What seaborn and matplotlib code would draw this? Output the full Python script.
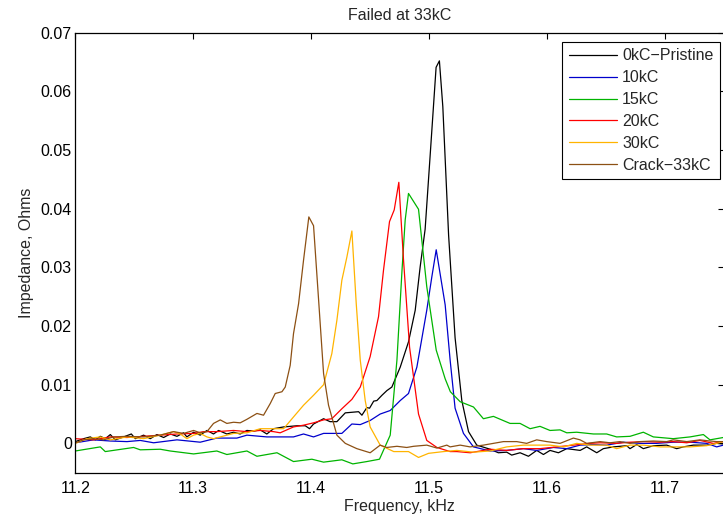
import numpy as np
import pandas as pd
import seaborn as sns
import matplotlib
matplotlib.use("Agg")
import matplotlib.pyplot as plt

# ---------------- data ----------------
x_0kC = [11.2000, 11.2071, 11.2127, 11.2170, 11.2212, 11.2254, 11.2297, 11.2339, 11.2410, 11.2475,
         11.2509, 11.2579, 11.2636, 11.2692, 11.2749, 11.2805, 11.2862, 11.2918, 11.2946, 11.3003,
         11.3059, 11.3116, 11.3172, 11.3215, 11.3285, 11.3342, 11.3398, 11.3455, 11.3511, 11.3568,
         11.3624, 11.3681, 11.3766, 11.3880, 11.3950, 11.3986, 11.4020, 11.4105, 11.4160, 11.4218,
         11.4289, 11.4402, 11.4430, 11.4472, 11.4495, 11.4530, 11.4557, 11.4600, 11.4642, 11.4684,
         11.4755, 11.4825, 11.4882, 11.4924, 11.4966, 11.5008, 11.5059, 11.5087, 11.5116, 11.5165,
         11.5220, 11.5277, 11.5334, 11.5404, 11.5517, 11.5587, 11.5658, 11.5700, 11.5771, 11.5842,
         11.5912, 11.5969, 11.6025, 11.6096, 11.6167, 11.6280, 11.6336, 11.6421, 11.6477, 11.6562,
         11.6675, 11.6703, 11.6760, 11.6816, 11.6901, 11.7014, 11.7099, 11.7155, 11.7240, 11.7353,
         11.7438, 11.7494]
y_0kC = [0.0003, 0.0008, 0.0011, 0.0006, 0.0012, 0.0008, 0.0015, 0.0006, 0.0011, 0.0016,
         0.0008, 0.0014, 0.0008, 0.0015, 0.0010, 0.0016, 0.0012, 0.0018, 0.0011, 0.0019,
         0.0014, 0.0022, 0.0016, 0.0022, 0.0016, 0.0019, 0.0016, 0.0022, 0.0021, 0.0023,
         0.0016, 0.0025, 0.0028, 0.0030, 0.0030, 0.0025, 0.0033, 0.0042, 0.0037, 0.0037,
         0.0052, 0.0054, 0.0048, 0.0061, 0.0060, 0.0072, 0.0073, 0.0082, 0.0090, 0.0096,
         0.0130, 0.0173, 0.0227, 0.0301, 0.0365, 0.0489, 0.0641, 0.0652, 0.0574, 0.0355,
         0.0180, 0.0073, 0.0020, -0.0003, -0.0010, -0.0016, -0.0015, -0.0020, -0.0016, -0.0022,
         -0.0012, -0.0019, -0.0012, -0.0016, -0.0009, -0.0012, -0.0006, -0.0016, -0.0009, -0.0006,
         -0.0004, -0.0009, -0.0002, -0.0009, -0.0004, -0.0003, -0.0009, -0.0006, -0.0003, -0.0003,
         0.0000, -0.0001]

x_10kC = [11.2000, 11.2155, 11.2297, 11.2438, 11.2551, 11.2664, 11.2862, 11.3059, 11.3200, 11.3370,
          11.3455, 11.3624, 11.3850, 11.3935, 11.4020, 11.4105, 11.4260, 11.4345, 11.4416, 11.4500,
          11.4585, 11.4670, 11.4755, 11.4825, 11.4896, 11.4980, 11.5023, 11.5060, 11.5136, 11.5178,
          11.5220, 11.5291, 11.5376, 11.5517, 11.5658, 11.5799, 11.5912, 11.6054, 11.6167, 11.6280,
          11.6393, 11.6505, 11.6647, 11.6788, 11.6929, 11.7070, 11.7212, 11.7353, 11.7438, 11.7494]
y_10kC = [0.0001, 0.0006, 0.0004, 0.0003, 0.0005, 0.0001, 0.0006, 0.0002, 0.0009, 0.0009,
          0.0014, 0.0011, 0.0011, 0.0016, 0.0011, 0.0017, 0.0017, 0.0033, 0.0032, 0.0039,
          0.0050, 0.0056, 0.0073, 0.0085, 0.0130, 0.0227, 0.0284, 0.0330, 0.0236, 0.0142,
          0.0060, 0.0017, -0.0006, -0.0013, -0.0012, -0.0009, -0.0012, -0.0007, -0.0009, -0.0003,
          -0.0002, -0.0003, 0.0002, 0.0000, 0.0000, 0.0002, 0.0002, 0.0000, -0.0006, -0.0003]

x_15kC = [11.2000, 11.2212, 11.2254, 11.2494, 11.2551, 11.2720, 11.2805, 11.3003, 11.3200, 11.3285,
          11.3455, 11.3540, 11.3710, 11.3850, 11.4006, 11.4105, 11.4260, 11.4353, 11.4472, 11.4579,
          11.4670, 11.4727, 11.4770, 11.4797, 11.4825, 11.4910, 11.4980, 11.5060, 11.5136, 11.5180,
          11.5263, 11.5376, 11.5460, 11.5545, 11.5686, 11.5771, 11.5856, 11.5940, 11.6025, 11.6110,
          11.6167, 11.6251, 11.6393, 11.6505, 11.6590, 11.6703, 11.6816, 11.6901, 11.7070, 11.7212,
          11.7325, 11.7381, 11.7494]
y_15kC = [-0.0013, -0.0006, -0.0014, -0.0007, -0.0011, -0.0010, -0.0013, -0.0018, -0.0013, -0.0019,
          -0.0013, -0.0022, -0.0016, -0.0031, -0.0027, -0.0032, -0.0028, -0.0035, -0.0031, -0.0027,
          0.0014, 0.0142, 0.0295, 0.0381, 0.0426, 0.0399, 0.0267, 0.0159, 0.0110, 0.0088,
          0.0071, 0.0062, 0.0042, 0.0046, 0.0034, 0.0034, 0.0025, 0.0029, 0.0022, 0.0023,
          0.0018, 0.0019, 0.0016, 0.0016, 0.0011, 0.0012, 0.0019, 0.0011, 0.0008, 0.0011,
          0.0015, 0.0006, 0.0010]

x_20kC = [11.2000, 11.2155, 11.2297, 11.2438, 11.2579, 11.2720, 11.2862, 11.3003, 11.3088, 11.3200,
          11.3342, 11.3455, 11.3568, 11.3681, 11.3737, 11.3850, 11.3935, 11.4020, 11.4105, 11.4175,
          11.4260, 11.4345, 11.4416, 11.4500, 11.4571, 11.4613, 11.4664, 11.4704, 11.4743, 11.4783,
          11.4834, 11.4910, 11.4980, 11.5066, 11.5178, 11.5235, 11.5348, 11.5517, 11.5658, 11.5799,
          11.5940, 11.6082, 11.6223, 11.6364, 11.6449, 11.6590, 11.6703, 11.6816, 11.6958, 11.7070,
          11.7184, 11.7296, 11.7410, 11.7494]
y_20kC = [0.0008, 0.0006, 0.0011, 0.0010, 0.0012, 0.0014, 0.0016, 0.0017, 0.0020, 0.0020,
          0.0022, 0.0020, 0.0022, 0.0020, 0.0018, 0.0028, 0.0031, 0.0035, 0.0040, 0.0042,
          0.0059, 0.0075, 0.0096, 0.0148, 0.0216, 0.0295, 0.0378, 0.0398, 0.0445, 0.0312,
          0.0164, 0.0050, 0.0005, -0.0007, -0.0014, -0.0014, -0.0016, -0.0010, -0.0012, -0.0009,
          -0.0009, -0.0006, -0.0003, 0.0000, 0.0001, 0.0000, 0.0002, 0.0003, 0.0002, 0.0003,
          0.0001, 0.0005, 0.0000, 0.0003]

x_30kC = [11.2000, 11.2099, 11.2212, 11.2297, 11.2438, 11.2579, 11.2720, 11.2833, 11.2890, 11.2946,
          11.3003, 11.3059, 11.3116, 11.3172, 11.3229, 11.3342, 11.3455, 11.3568, 11.3681, 11.3766,
          11.3850, 11.3935, 11.4020, 11.4105, 11.4175, 11.4218, 11.4260, 11.4303, 11.4345, 11.4382,
          11.4416, 11.4458, 11.4500, 11.4585, 11.4700, 11.4825, 11.4910, 11.4995, 11.5122, 11.5235,
          11.5376, 11.5517, 11.5658, 11.5799, 11.5940, 11.6025, 11.6138, 11.6251, 11.6364, 11.6505,
          11.6590, 11.6703, 11.6816, 11.6958, 11.7070, 11.7212, 11.7353, 11.7438, 11.7494]
y_30kC = [0.0000, 0.0008, 0.0011, 0.0006, 0.0011, 0.0008, 0.0014, 0.0020, 0.0016, 0.0008,
          0.0014, 0.0017, 0.0011, 0.0008, 0.0011, 0.0017, 0.0018, 0.0025, 0.0025, 0.0025,
          0.0045, 0.0065, 0.0082, 0.0100, 0.0153, 0.0210, 0.0278, 0.0318, 0.0362, 0.0238,
          0.0142, 0.0073, 0.0028, -0.0003, -0.0014, -0.0014, -0.0024, -0.0017, -0.0014, -0.0012,
          -0.0015, -0.0013, -0.0006, -0.0003, -0.0003, -0.0003, -0.0006, 0.0000, -0.0003, -0.0003,
          -0.0009, -0.0003, -0.0003, -0.0006, -0.0006, -0.0006, -0.0004, 0.0000, 0.0003]

x_33kC = [11.2000, 11.2071, 11.2155, 11.2240, 11.2325, 11.2438, 11.2579, 11.2720, 11.2833, 11.2918,
          11.3003, 11.3059, 11.3116, 11.3172, 11.3229, 11.3285, 11.3342, 11.3398, 11.3455, 11.3540,
          11.3596, 11.3653, 11.3695, 11.3752, 11.3780, 11.3822, 11.3850, 11.3893, 11.3935, 11.3980,
          11.4020, 11.4063, 11.4105, 11.4147, 11.4218, 11.4289, 11.4387, 11.4500, 11.4585, 11.4640,
          11.4727, 11.4810, 11.4868, 11.4980, 11.5066, 11.5150, 11.5178, 11.5263, 11.5347, 11.5460,
          11.5545, 11.5630, 11.5743, 11.5827, 11.5912, 11.5997, 11.6110, 11.6223, 11.6280, 11.6336,
          11.6449, 11.6534, 11.6618, 11.6703, 11.6788, 11.6901, 11.7014, 11.7070, 11.7184, 11.7296,
          11.7381, 11.7438, 11.7494]
y_33kC = [0.0001, 0.0006, 0.0008, 0.0006, 0.0011, 0.0012, 0.0011, 0.0014, 0.0020, 0.0017,
          0.0022, 0.0018, 0.0020, 0.0034, 0.0040, 0.0034, 0.0036, 0.0035, 0.0041, 0.0051,
          0.0048, 0.0068, 0.0085, 0.0088, 0.0096, 0.0133, 0.0187, 0.0238, 0.0312, 0.0386,
          0.0371, 0.0244, 0.0119, 0.0065, 0.0014, 0.0000, -0.0009, -0.0016, -0.0003, -0.0007,
          -0.0005, -0.0007, -0.0005, -0.0003, -0.0008, -0.0003, -0.0006, -0.0003, -0.0006, -0.0003,
          0.0000, 0.0003, 0.0003, 0.0000, 0.0006, 0.0003, 0.0000, 0.0009, 0.0006, 0.0000,
          0.0003, 0.0001, 0.0003, 0.0000, 0.0003, 0.0004, 0.0003, 0.0006, 0.0003, 0.0006,
          0.0004, 0.0003, 0.0003]

series_names = ["0kC\u2212Pristine", "10kC", "15kC", "20kC", "30kC", "Crack\u221233kC"]
series_x = [x_0kC, x_10kC, x_15kC, x_20kC, x_30kC, x_33kC]
series_y = [y_0kC, y_10kC, y_15kC, y_20kC, y_30kC, y_33kC]
series_colors = ["#000000", "#0000CC", "#00B400", "#FF0000", "#FFB400", "#8C5014"]

x_ticks = [11.2, 11.3, 11.4, 11.5, 11.6, 11.7]
y_ticks = [0, 0.01, 0.02, 0.03, 0.04, 0.05, 0.06, 0.07]
y_ticklabels = ["0", "0.01", "0.02", "0.03", "0.04", "0.05", "0.06", "0.07"]

# ---------------- build long-form table ----------------
frames = []
for name, xs, ys in zip(series_names, series_x, series_y):
    frames.append(pd.DataFrame({"Frequency": xs, "Impedance": ys, "Series": name}))
df = pd.concat(frames, ignore_index=True)

# ---------------- plot ----------------
sns.set_style("white")
plt.rcParams["font.family"] = ["Liberation Sans", "DejaVu Sans"]
FS = 11.5
plt.rcParams["font.size"] = FS

fig = plt.figure(figsize=(7.23, 5.15), dpi=100)
left_px, right_px, top_px, bottom_px = 75.3, 724.0, 32.7, 472.7
ax = fig.add_axes([left_px / 723, (515 - bottom_px) / 515,
                   (right_px - left_px) / 723, (bottom_px - top_px) / 515])

sns.lineplot(data=df, x="Frequency", y="Impedance", hue="Series",
             hue_order=series_names, palette=dict(zip(series_names, series_colors)),
             estimator=None, sort=False, linewidth=0.9, ax=ax)

ax.set_xlim(11.2, 11.75)
ax.set_ylim(-0.005, 0.07)
ax.set_xticks(x_ticks)
ax.set_xticklabels([f"{t:.1f}" for t in x_ticks])
ax.set_yticks(y_ticks)
ax.set_yticklabels(y_ticklabels)
ax.tick_params(direction="in", length=4, width=0.8, top=True, right=True,
               labelsize=FS, colors="black")
ax.tick_params(axis="x", pad=6)
ax.tick_params(axis="y", pad=2.5)
for sp in ax.spines.values():
    sp.set_color("black")
    sp.set_linewidth(0.9)

ax.set_xlabel("Frequency, kHz", fontsize=FS, labelpad=2)
ax.set_ylabel("Impedance, Ohms", fontsize=FS, labelpad=5)
ax.set_title("Failed at 33kC", fontsize=FS, pad=9)

handles, labels = ax.get_legend_handles_labels()
leg = ax.legend(handles, labels, loc="upper right",
                bbox_to_anchor=(720 / 723, 1 - 42 / 515), bbox_transform=fig.transFigure,
                borderaxespad=0, frameon=True, fancybox=False, framealpha=1,
                edgecolor="black", fontsize=FS, handlelength=3.0, handletextpad=0.35,
                labelspacing=0.43, borderpad=0.4)
leg.get_frame().set_linewidth(0.8)

fig.savefig("out.png", dpi=100)
